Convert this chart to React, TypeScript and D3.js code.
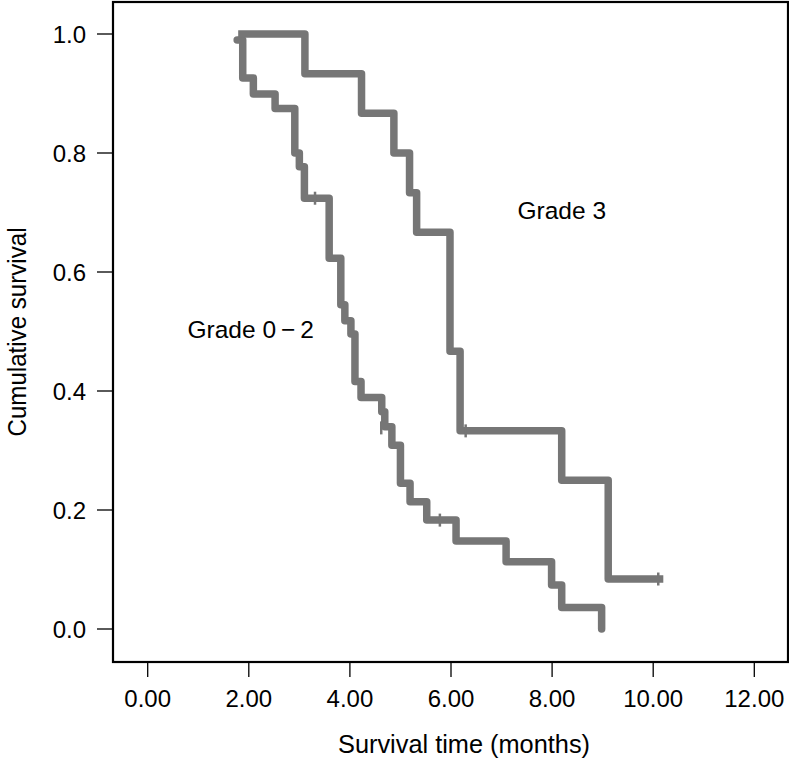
import React from "react";
import * as d3 from "d3";

// Kaplan-Meier step data: [time (months), survival after the step]
const grade3Steps: [number, number][] = [
  [1.79, 1.0],
  [3.11, 0.933],
  [4.23, 0.867],
  [4.87, 0.8],
  [5.18, 0.733],
  [5.32, 0.667],
  [5.98, 0.467],
  [6.18, 0.333],
  [8.19, 0.25],
  [9.11, 0.084],
];
const grade3End = 10.2;
const grade3Censored: [number, number][] = [
  [6.29, 0.333],
  [10.1, 0.084],
];

const grade02Steps: [number, number][] = [
  [1.77, 0.99],
  [1.88, 0.926],
  [2.09, 0.899],
  [2.52, 0.875],
  [2.91, 0.8],
  [3.0, 0.777],
  [3.1, 0.724],
  [3.59, 0.623],
  [3.82, 0.545],
  [3.9, 0.518],
  [4.02, 0.496],
  [4.1, 0.416],
  [4.22, 0.389],
  [4.63, 0.365],
  [4.69, 0.34],
  [4.83, 0.309],
  [5.0, 0.245],
  [5.19, 0.214],
  [5.52, 0.183],
  [6.1, 0.148],
  [7.09, 0.113],
  [7.99, 0.074],
  [8.19, 0.036],
  [8.98, 0.0],
];
const grade02End = 8.98;
const grade02Censored: [number, number][] = [
  [3.31, 0.724],
  [4.62, 0.338],
  [5.78, 0.183],
];

const xTicks = [0, 2, 4, 6, 8, 10, 12];
const yTicks = [0, 0.2, 0.4, 0.6, 0.8, 1.0];

const W = 789;
const H = 758;
const frame = { left: 113, top: 2, right: 788, bottom: 662 };

export default function App() {
  const x = d3.scaleLinear().domain([0, 12]).range([147.7, 754.3]);
  const y = d3.scaleLinear().domain([0, 1]).range([629, 34]);

  const line = d3
    .line<[number, number]>()
    .x((d) => x(d[0]))
    .y((d) => y(d[1]))
    .curve(d3.curveStepAfter);

  const withEnd = (steps: [number, number][], end: number): [number, number][] => {
    const last = steps[steps.length - 1];
    return last[0] < end ? [...steps, [end, last[1]]] : steps;
  };

  const grey = "#767676";
  const font = "Liberation Sans, Arial, Helvetica, sans-serif";

  const censorMarks = (pts: [number, number][], key: string) =>
    pts.map((p, i) => (
      <line
        key={key + i}
        x1={x(p[0])}
        x2={x(p[0])}
        y1={y(p[1]) - 6.5}
        y2={y(p[1]) + 6.5}
        stroke={grey}
        strokeWidth={2.5}
      />
    ));

  return (
    <svg
      width={W}
      height={H}
      style={{ position: "absolute", left: 0, top: 0, background: "#fff" }}
      fontFamily={font}
    >
      <rect x={0} y={0} width={W} height={H} fill="#fff" />
      {/* curves */}
      <path
        d={line(withEnd(grade02Steps, grade02End)) || ""}
        fill="none"
        stroke={grey}
        strokeWidth={7.5}
        strokeLinejoin="round"
        strokeLinecap="round"
      />
      <path
        d={line(withEnd(grade3Steps, grade3End)) || ""}
        fill="none"
        stroke={grey}
        strokeWidth={7.5}
        strokeLinejoin="round"
        strokeLinecap="butt"
      />
      {censorMarks(grade02Censored, "c02")}
      {censorMarks(grade3Censored, "c3")}

      {/* frame */}
      <rect
        x={frame.left}
        y={frame.top}
        width={frame.right - frame.left}
        height={frame.bottom - frame.top}
        fill="none"
        stroke="#000"
        strokeWidth={2.2}
      />

      {/* y axis */}
      {yTicks.map((t) => (
        <g key={"y" + t}>
          <line x1={97} x2={frame.left} y1={y(t)} y2={y(t)} stroke="#000" strokeWidth={1.3} />
          <text x={86} y={y(t) + 8.5} fontSize={24} textAnchor="end" fill="#000">
            {t.toFixed(1)}
          </text>
        </g>
      ))}
      {/* x axis */}
      {xTicks.map((t) => (
        <g key={"x" + t}>
          <line x1={x(t)} x2={x(t)} y1={frame.bottom} y2={677} stroke="#000" strokeWidth={1.3} />
          <text x={x(t)} y={707} fontSize={24} textAnchor="middle" fill="#000">
            {t.toFixed(2)}
          </text>
        </g>
      ))}

      <text
        x={464}
        y={753}
        fontSize={25}
        textAnchor="middle"
        textLength={252}
        lengthAdjust="spacingAndGlyphs"
        fill="#000"
      >
        Survival time (months)
      </text>
      <text
        transform={`translate(26,332) rotate(-90)`}
        fontSize={25}
        textAnchor="middle"
        textLength={209}
        lengthAdjust="spacingAndGlyphs"
        fill="#000"
      >
        Cumulative survival
      </text>

      <text x={517.5} y={219} fontSize={24.5} fill="#000">
        Grade 3
      </text>
      <text x={187.5} y={338} fontSize={24.5} fill="#000">
        Grade 0{"\u2009\u2212\u2009"}2
      </text>
    </svg>
  );
}
